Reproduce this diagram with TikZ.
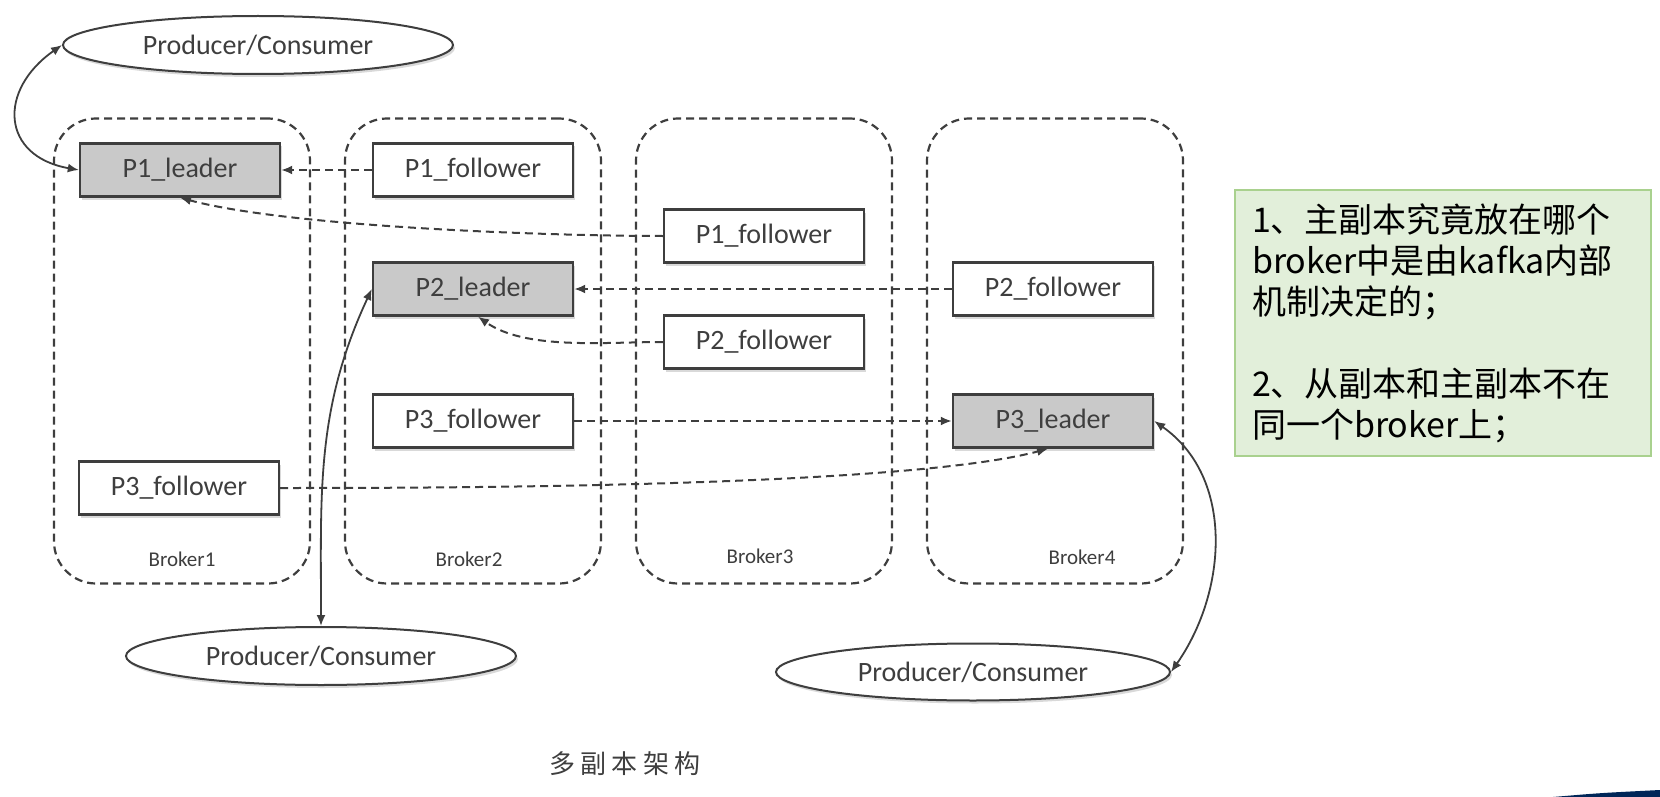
\documentclass[tikz,border=0pt]{standalone}
\usepackage{fontspec}
\setmainfont{Carlito}
\newfontfamily\notefont{Noto Sans CJK SC}
\newfontfamily\captionfont[LetterSpace=20]{Noto Sans CJK SC}
\usetikzlibrary{shapes, arrows.meta, shadows}

\definecolor{inkgray}{RGB}{62,62,62}
\definecolor{leadergray}{RGB}{201,201,201}
\definecolor{notegreen}{RGB}{226,239,218}
\definecolor{noteborder}{RGB}{169,209,142}
\definecolor{swoosh}{RGB}{0,38,88}

\begin{document}
\begin{tikzpicture}
	  [x=1pt, y=1pt, node distance = 291pt, auto,
	  %
	  broker/.style={rectangle, draw=inkgray, line width=2.2pt, dash pattern=on 8pt off 5pt, rounded corners=42pt, minimum width=256pt, minimum height=465pt},
	  %
	  brokerlabel/.style={text=inkgray, font=\fontsize{21pt}{24pt}\selectfont},
	  %
	  partbox/.style={rectangle, draw=inkgray, line width=2.4pt, fill=white, text=inkgray, minimum width=200pt, minimum height=53pt, font=\fontsize{28pt}{32pt}\selectfont, drop shadow={shadow xshift=2pt, shadow yshift=-3pt, opacity=0.3}},
	  %
	  leader/.style={partbox, fill=leadergray},
	  %
	  client/.style={ellipse, draw=inkgray, line width=2pt, fill=white, text=inkgray, inner sep=0pt, minimum width=390pt, minimum height=58pt, font=\fontsize{28pt}{32pt}\selectfont, drop shadow={shadow xshift=2pt, shadow yshift=-3pt, opacity=0.3}},
	  %
	  replica/.style={draw=inkgray, line width=2pt, dash pattern=on 8pt off 5pt, arrows={-Latex[length=11pt, width=9pt]}},
	  %
	  access/.style={draw=inkgray, line width=1.8pt, arrows={Latex[length=11pt, width=9pt]-Latex[length=11pt, width=9pt]}},
	  %
	  note/.style={rectangle, draw=noteborder, line width=2pt, fill=notegreen, minimum width=416pt, minimum height=266pt, text width=382pt, inner xsep=17pt, align=left, font=\notefont\fontsize{34pt}{41pt}\selectfont}]

	    \useasboundingbox (0,0) rectangle (1660,-797);

	    \node [broker] (b1) at (182,-351) {};
	    \node [broker, right of=b1] (b2) {};
	    \node [broker, right of=b2] (b3) {};
	    \node [broker, right of=b3] (b4) {};
	    \node [brokerlabel] (b1lab) at ([yshift=25pt]b1.south) {Broker1};
	    \node [brokerlabel] (b2lab) at ([xshift=-4pt, yshift=25pt]b2.south) {Broker2};
	    \node [brokerlabel] (b3lab) at ([xshift=-4pt, yshift=28pt]b3.south) {Broker3};
	    \node [brokerlabel] (b4lab) at ([xshift=27pt, yshift=27pt]b4.south) {Broker4};

	    \node [leader] (p1l) at (180,-170) {P1\_leader};
	    \node [partbox] (p1f2) at (473,-170) {P1\_follower};
	    \node [partbox] (p1f3) at (764,-236) {P1\_follower};
	    \node [leader] (p2l) at (473,-289) {P2\_leader};
	    \node [partbox] (p2f4) at (1053,-289) {P2\_follower};
	    \node [partbox] (p2f3) at (764,-342) {P2\_follower};
	    \node [partbox] (p3f2) at (473,-421) {P3\_follower};
	    \node [leader] (p3l) at (1053,-421) {P3\_leader};
	    \node [partbox] (p3f1) at (179,-488) {P3\_follower};

	    \node [client] (pc1) at (258,-45) {Producer/Consumer};
	    \node [client] (pc2) at (321,-656) {Producer/Consumer};
	    \node [client, minimum width=394pt, minimum height=57pt] (pc3) at (973,-672) {Producer/Consumer};

	    \draw [replica] (p1f2) -- (p1l);
	    \draw [replica] (p1f3.west) to[out=180, in=-15, looseness=0.6] (p1l.south);
	    \draw [replica] (p2f4) -- (p2l);
	    \draw [replica] (p2f3.west) to[out=180, in=-35, looseness=0.8] ([xshift=5pt]p2l.south);
	    \draw [replica] (p3f2) -- (p3l);
	    \draw [replica] (p3f1.east) to[out=0, in=-165, looseness=0.5] ([xshift=-5pt]p3l.south);

	    \draw [access] (pc1.west) to[out=215, in=170, looseness=1.6] (p1l.west);
	    \draw [access] (p2l.west) to[out=-115, in=90] (pc2.north);
	    \draw [access] (p3l.east) to[out=-35, in=55] (pc3.east);

	    \node [text=inkgray, font=\captionfont\fontsize{26pt}{30pt}\selectfont] (caption) at (625,-764) {多副本架构};
	    \node [note] (remark) at (1443,-323) {1、主副本究竟放在哪个\\broker中是由kafka内部\\机制决定的；\\[41pt]2、从副本和主副本不在\\同一个broker上；};

	    \fill [swoosh] (1553,-797) .. controls (1600,-793) .. (1660,-790) -- (1660,-797) -- cycle;
	  \end{tikzpicture}
\end{document}
